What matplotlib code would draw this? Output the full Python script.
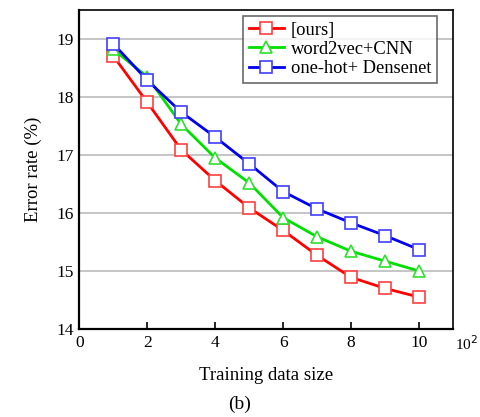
import matplotlib
matplotlib.use("Agg")
import matplotlib.pyplot as plt

x = [1, 2, 3, 4, 5, 6, 7, 8, 9, 10]
ours = [18.71, 17.91, 17.09, 16.56, 16.09, 15.70, 15.27, 14.89, 14.70, 14.55]
w2v_cnn = [18.82, 18.35, 17.53, 16.95, 16.52, 15.92, 15.59, 15.34, 15.17, 15.00]
onehot_dense = [18.92, 18.29, 17.74, 17.31, 16.85, 16.37, 16.07, 15.83, 15.61, 15.37]
labels = ["[ours]", "word2vec+CNN", "one-hot+ Densenet"]
xticks = [0, 2, 4, 6, 8, 10]
yticks = [14, 15, 16, 17, 18, 19]

plt.rcParams['font.family'] = ['Liberation Serif', 'DejaVu Serif']
fig = plt.figure(figsize=(4.8, 4.17), dpi=100)
ax = fig.add_axes([0.165, 0.211, 0.779, 0.765])

ax.plot(x, ours, color='#ff0000', lw=2, marker='s', ms=8, mfc='white', mec='#ff4040', mew=1.2, label=labels[0])
ax.plot(x, w2v_cnn, color='#00e000', lw=2, marker='^', ms=9, mfc='white', mec='#30e030', mew=1.2, label=labels[1])
ax.plot(x, onehot_dense, color='#0000ee', lw=2, marker='s', ms=8, mfc='white', mec='#4040ff', mew=1.2, label=labels[2])

ax.set_xlim(0, 11)
ax.set_ylim(14, 19.5)
ax.set_xticks(xticks)
ax.set_yticks(yticks)
ax.tick_params(axis='x', direction='in', length=5, width=1.2, labelsize=12.5, pad=4)
ax.tick_params(axis='y', length=0, labelsize=12.5, pad=4)
ax.yaxis.grid(True, color='#bbbbbb', lw=1.2)
ax.set_axisbelow(True)
for s in ['left', 'bottom']:
    ax.spines[s].set_linewidth(1.6)
for s in ['top', 'right']:
    ax.spines[s].set_linewidth(1.2)

ax.text(1.005, -0.045, r'10$^2$', transform=ax.transAxes, fontsize=11, ha='left', va='center')
ax.set_xlabel('Training data size', fontsize=13.5, labelpad=12)
ax.set_ylabel('Error rate (%)', fontsize=13.5, labelpad=10)
fig.text(0.5, 0.03, '(b)', fontsize=14, ha='center', va='center')

leg = ax.legend(loc='upper right', fontsize=13.3, frameon=True, fancybox=False,
                edgecolor='#444444', handlelength=1.9, borderpad=0.3,
                labelspacing=0.12, handletextpad=0.4, borderaxespad=0,
                bbox_to_anchor=(0.957, 0.981))
leg.get_frame().set_linewidth(1.2)

fig.savefig('out.png', dpi=100)
